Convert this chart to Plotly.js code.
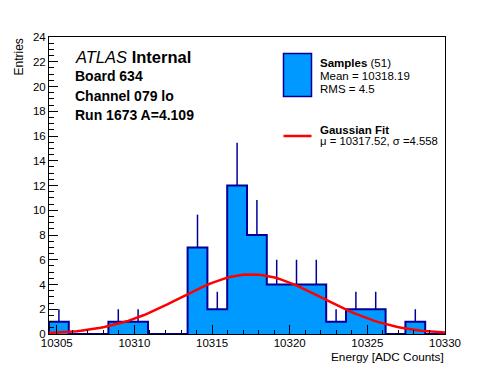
<!DOCTYPE html>
<html>
<head>
<meta charset="utf-8">
<script src="https://cdn.plot.ly/plotly-3.0.1.min.js"></script>
<style>html,body{margin:0;padding:0;background:#fff;}#chart{width:496px;height:372px;}</style>
</head>
<body>
<div id="chart"></div>
<script>
// ---- data ----
const binLow = 10304.5;          // lower edge of first bin
const binWidth = 1.275;          // bin width (20 bins up to 10330)
const counts = [1,0,0,1,1,0,0,7,2,12,8,4,4,4,1,2,2,0,1,0];
const fitMu = 10317.52;
const fitSigma = 4.558;
const fitConst = 4.82;           // peak height of the fitted Gaussian
const xTickVals = [10305,10310,10315,10320,10325,10330];
const headerLines = ["Board 634","Channel 079 lo","Run 1673 A=4.109"];
const sampleStats = ["Mean = 10318.19","RMS = 4.5"];
const fitLabel = "\u03bc = 10317.52, \u03c3 =4.558";
const nEntries = 51;

// ---- derived ----
const nb = counts.length;
const xHigh = binLow + nb*binWidth;
const stepX = [binLow], stepY = [0];
for (let i=0;i<nb;i++){ stepX.push(binLow+i*binWidth); stepY.push(counts[i]); }
stepX.push(xHigh); stepY.push(0);

const errX=[], errY=[], errUp=[];
counts.forEach((c,i)=>{ if(c>0){ errX.push(binLow+(i+0.5)*binWidth); errY.push(c); errUp.push(Math.sqrt(c)); } });

const fitX=[], fitY=[];
for (let k=0;k<=100;k++){ const x=binLow+(xHigh-binLow)*k/100; fitX.push(x); fitY.push(fitConst*Math.exp(-0.5*Math.pow((x-fitMu)/fitSigma,2))); }

const FILL='#0099ff', NAVY='#000099', RED='#ff0000';
const FONT='Liberation Sans, Arial, Helvetica, sans-serif';

const traces=[
  {x:stepX,y:stepY,type:'scatter',mode:'lines',line:{shape:'hv',color:NAVY,width:2},fill:'tozeroy',fillcolor:FILL,hoverinfo:'skip'},
  {x:errX,y:errY,type:'scatter',mode:'markers',marker:{size:1,color:'rgba(0,0,0,0)'},
   error_y:{type:'data',symmetric:false,array:errUp,arrayminus:errUp.map(()=>0),width:0,thickness:1.5,color:NAVY},hoverinfo:'skip'},
  {x:fitX,y:fitY,type:'scatter',mode:'lines',line:{color:RED,width:2.5},hoverinfo:'skip'}
];

const L=49, R=445, T=37, B=334;
const px = v => (v-L)/(R-L);
const py = v => (B-v)/(B-T);

function txt(x,y,text,size,extra){
  return Object.assign({xref:'paper',yref:'paper',x:px(x),y:py(y),text:text,showarrow:false,
    xanchor:'left',yanchor:'middle',font:{family:FONT,size:size,color:'#000'}},extra||{});
}

const ann=[
  txt(73,57.5,'<i>ATLAS</i> <b>Internal</b>',16.5),
  txt(73,76,'<b>'+headerLines[0]+'</b>',14),
  txt(73,95.5,'<b>'+headerLines[1]+'</b>',14),
  txt(73,115,'<b>'+headerLines[2]+'</b>',14),
  txt(318,62.5,'<b>Samples</b> ('+nEntries+')',11.5),
  txt(318,75.5,sampleStats[0],11.5),
  txt(318,89,sampleStats[1],11.5),
  txt(318,130,'<b>Gaussian Fit</b>',11.5),
  txt(318,141,fitLabel,11.3),
  txt(446,357,'Energy [ADC Counts]',11.8,{xanchor:'right'}),
  txt(18,37,'Entries',12,{xanchor:'center',yanchor:'top',textangle:-90})
];

const shapes=[
  {type:'rect',xref:'paper',yref:'paper',x0:px(283.5),x1:px(311.5),y0:py(96.5),y1:py(53.5),fillcolor:FILL,line:{color:NAVY,width:1.5}},
  {type:'line',xref:'paper',yref:'paper',x0:px(283.5),x1:px(311.5),y0:py(136),y1:py(136),line:{color:RED,width:2.5}}
];

const layout={
  width:496,height:372,
  margin:{l:L,r:496-R,t:T,b:372-B,pad:0},
  paper_bgcolor:'#fff',plot_bgcolor:'#fff',
  showlegend:false,
  font:{family:FONT,size:11.5,color:'#000'},
  xaxis:{range:[binLow,xHigh],tickvals:xTickVals,tickformat:'d',ticks:'inside',ticklen:9,tickwidth:1,tickcolor:'#000',
    ticklabelstandoff:-2,
    showline:true,linecolor:'#000',linewidth:1,mirror:true,showgrid:false,zeroline:false,
    minor:{dtick:1,tick0:10305,ticks:'inside',ticklen:4.5,tickcolor:'#000',showgrid:false},
    tickfont:{family:FONT,size:11.5,color:'#000'}},
  yaxis:{range:[0,24],tick0:0,dtick:2,ticks:'inside',ticklen:9,tickwidth:1,tickcolor:'#000',
    showline:true,linecolor:'#000',linewidth:1,mirror:true,showgrid:false,zeroline:false,
    minor:{dtick:0.5,ticks:'inside',ticklen:4.5,tickcolor:'#000',showgrid:false},
    tickfont:{family:FONT,size:11.5,color:'#000'}},
  annotations:ann,
  shapes:shapes
};

Plotly.newPlot('chart',traces,layout,{staticPlot:true,displayModeBar:false});
</script>
</body>
</html>
